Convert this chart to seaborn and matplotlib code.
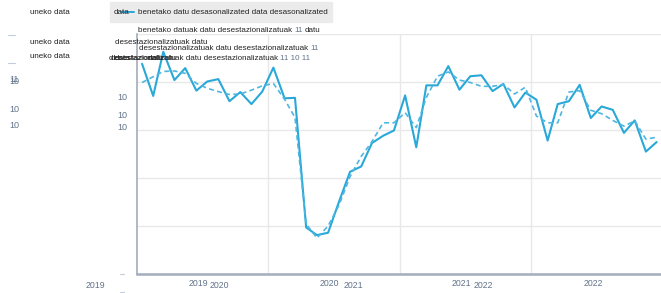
import numpy as np
import pandas as pd
import seaborn as sns
import matplotlib.pyplot as plt
from matplotlib.lines import Line2D

# datuak (hilabetekoak, 2019-2022)
months = pd.date_range("2019-01-01", "2022-12-01", freq="MS") + pd.Timedelta(days=14)

benetako = [93.8, 87.1, 96.3, 90.4, 92.9, 88.2, 90.1, 90.6, 86.0, 87.9, 85.4, 88.0,
            93.0, 86.6, 86.7, 59.7, 58.1, 58.6, 65.0, 71.3, 72.4, 77.3, 78.8, 79.9,
            87.2, 76.4, 89.3, 89.3, 93.3, 88.4, 91.2, 91.4, 88.1, 89.6, 84.7, 87.8,
            86.3, 77.8, 85.4, 86.0, 89.4, 82.5, 84.9, 84.2, 79.4, 82.0, 75.5, 77.5]

desest = [89.9, 91.1, 92.2, 92.3, 91.8, 89.7, 88.7, 88.0, 87.4, 87.5, 88.3, 89.2,
          89.7, 86.4, 82.6, 60.4, 57.5, 60.0, 64.3, 70.3, 74.5, 77.6, 81.5, 81.5,
          83.6, 80.5, 86.8, 91.2, 92.1, 90.4, 89.9, 89.1, 89.1, 89.5, 87.5, 88.9,
          82.9, 81.5, 81.5, 87.9, 88.2, 84.1, 83.4, 82.0, 80.8, 81.9, 78.1, 78.5]

year_labels = ["2019", "2020", "2021", "2022"]

df = pd.DataFrame({"month": months, "benetako": benetako, "desest": desest})

sns.set_style("white")
plt.rcParams["font.family"] = ["Liberation Sans", "DejaVu Sans"]

blue = "#2aa8d8"
axis_col = "#a3adbd"
tick_col = "#627389"

fig = plt.figure(figsize=(6.61, 2.93), dpi=100)
W, H = 661, 293
ax = fig.add_axes([137 / W, 19 / H, (W - 137) / W, 240 / H])

sns.lineplot(data=df, x="month", y="benetako", color=blue, linewidth=1.5, ax=ax)
sns.lineplot(data=df, x="month", y="desest", color="#4fb6e0", linewidth=1.2,
             linestyle=(0, (3, 2)), ax=ax)

ax.set_xlim(pd.Timestamp("2019-01-01"), pd.Timestamp("2022-12-27"))
ax.set_ylim(50, 100)
ax.set_yticks(np.arange(50, 101, 10))
ax.set_xticks(pd.to_datetime(["2020-01-01", "2021-01-01", "2022-01-01"]))
ax.set_xticklabels([])
ax.set_yticklabels([])
ax.set_xlabel("")
ax.set_ylabel("")
ax.grid(True, color="#e8e8e8", linewidth=1)
ax.tick_params(axis="both", length=3, width=1, color=axis_col, direction="out")

for s in ["top", "right"]:
    ax.spines[s].set_visible(False)
ax.spines["left"].set_color(axis_col)
ax.spines["left"].set_linewidth(1.2)
ax.spines["bottom"].set_color(axis_col)
ax.spines["bottom"].set_linewidth(1.8)

renderer = fig.canvas.get_renderer()


def txt(x, y, s, color="#222222", size=5.8, **kw):
    t = fig.text(x / W, 1 - y / H, s, color=color, fontsize=size, va="center", ha="left", **kw)
    return t.get_window_extent(renderer).x1


def chain(x, y, parts, gap=2.2):
    # testu zatiak bata bestearen atzean, kolore desberdinekin
    for s, c in parts:
        x = txt(x, y, s, color=c) + gap


# legenda itxurako kutxa grisa
fig.add_artist(plt.Rectangle((110 / W, 1 - 22 / H), 222 / W, 20 / H,
                             transform=fig.transFigure, color="#ebebeb", zorder=0))
fig.add_artist(Line2D([121 / W, 134 / W], [1 - 12 / H, 1 - 12 / H],
                      color=blue, linewidth=1.4, transform=fig.transFigure))
txt(114, 13, "data")
txt(138, 13, "benetako datu desasonalizated data desasonalizated")

# goiko testu nahasiak
txt(30, 13, "uneko data")
txt(30, 43, "uneko data")
txt(30, 57, "uneko data")

dark = "#222222"
chain(138, 31, [("benetako datuak datu desestazionalizatuak", dark), ("11", tick_col), ("datu", dark)])

txt(115, 43, "desestazionalizatuak datu")
chain(139, 48, [("desestazionalizatuak datu desestazionalizatuak", dark), ("11", tick_col)])

txt(111, 59, "desestazionalizatu")
txt(115, 59, "data")
txt(148, 59, "datu")
chain(109, 59, [("desestazionalizatuak datu desestazionalizatuak", dark), ("11 10 11", tick_col)])

# ardatz etiketa nahasiak
for yy in [35, 63]:
    fig.add_artist(Line2D([8 / W, 15 / W], [1 - yy / H, 1 - yy / H],
                          color="#c3ccd8", linewidth=0.8, transform=fig.transFigure))
txt(9, 79, "11", color=tick_col, size=6.5)
txt(9, 82, "10", color=tick_col, size=6.5)
txt(9, 110, "10", color=tick_col, size=6.5)
txt(9, 126, "10", color=tick_col, size=6.5)
txt(117, 98, "10", color=tick_col, size=6.5)
txt(117, 115, "10", color=tick_col, size=6.5)
txt(117, 127, "10", color=tick_col, size=6.5)

for yy in [274, 292]:
    fig.add_artist(Line2D([120 / W, 124 / W], [1 - yy / H, 1 - yy / H],
                          color="#c3ccd8", linewidth=0.8, transform=fig.transFigure))
txt(86, 285, year_labels[0], color=tick_col, size=6.3)

for i, x in enumerate([198, 329, 461, 593]):
    fig.text(x / W, 1 - 283 / H, year_labels[i], color=tick_col, fontsize=6.3, ha="center", va="center")
for i, x in enumerate([219, 353, 483]):
    fig.text(x / W, 1 - 286 / H, year_labels[i + 1], color=tick_col, fontsize=6.3, ha="center", va="center")

fig.savefig("out.png", dpi=100)
